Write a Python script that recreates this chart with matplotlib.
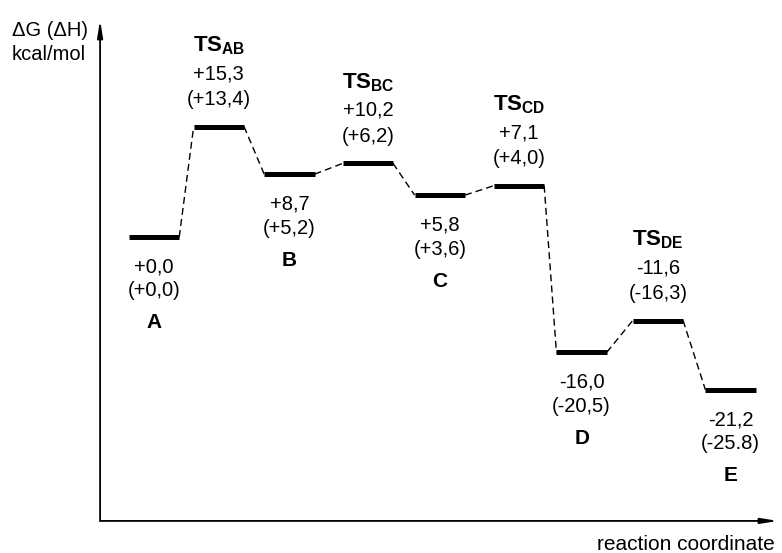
import matplotlib.pyplot as plt

plt.rcParams['font.family'] = ['Liberation Sans', 'DejaVu Sans']
plt.rcParams['mathtext.fontset'] = 'custom'
plt.rcParams['mathtext.rm'] = 'Liberation Sans'
plt.rcParams['mathtext.bf'] = 'Liberation Sans:bold'
plt.rcParams['mathtext.it'] = 'Liberation Sans:italic'

# stationary points along the reaction coordinate
names = ['A', 'TS_{AB}', 'B', 'TS_{BC}', 'C', 'TS_{CD}', 'D', 'TS_{DE}', 'E']
is_ts = [False, True, False, True, False, True, False, True, False]
rc = [0.0, 0.9, 1.88, 2.97, 3.97, 5.07, 5.94, 7.0, 8.01]
dG = [0.0, 15.3, 8.7, 10.2, 5.8, 7.1, -16.0, -11.6, -21.2]
dH_text = ['(+0,0)', '(+13,4)', '(+5,2)', '(+6,2)', '(+3,6)', '(+4,0)',
           '(-20,5)', '(-16,3)', '(-25.8)']

fig = plt.figure(figsize=(7.82, 5.53), dpi=100)
ax = fig.add_axes([0.128, 0.058, 0.867, 0.906])
ax.set_xlim(-0.75, 8.67)
ax.set_ylim(-39.4, 30.1)
for sp in ax.spines.values():
    sp.set_visible(False)
ax.set_xticks([])
ax.set_yticks([])

# axis arrows
arrow = dict(arrowstyle='-|>,head_length=1.0,head_width=0.16', color='black', lw=1.3,
             shrinkA=0, shrinkB=0)
ax.annotate('', xy=(0, 1), xytext=(0, 0), xycoords='axes fraction', arrowprops=arrow)
ax.annotate('', xy=(1, 0), xytext=(0, 0), xycoords='axes fraction', arrowprops=arrow)

half = 0.35
px = 0.72  # points per pixel

for i, g in enumerate(dG):
    x = rc[i]
    ax.plot([x - half, x + half], [g, g], color='black', lw=3.6, solid_capstyle='butt')
    if i + 1 < len(dG):
        ax.plot([x + half, rc[i + 1] - half], [g, dG[i + 1]], color='black', lw=1,
                dashes=(5, 3))
    gtxt = f'{g:+.1f}'.replace('.', ',')
    name = r'$\mathbf{' + names[i] + '}$'
    if is_ts[i]:
        offs = [(name, 81, 16), (gtxt, 53, 14.5), (dH_text[i], 27, 14.5)]
    else:
        offs = [(gtxt, -30, 14.5), (dH_text[i], -54, 14.5), (name, -86, 15)]
    for txt, dy, fs in offs:
        ax.annotate(txt, xy=(x, g), xytext=(0, dy * px), textcoords='offset points',
                    ha='center', va='center', fontsize=fs)

fig.text(12 / 782, 1 - 21 / 553, 'ΔG (ΔH)\nkcal/mol', ha='left', va='top',
         fontsize=14.5, linespacing=1.3)
fig.text(775 / 782, 1 - 545 / 553, 'reaction coordinate', ha='right', va='center',
         fontsize=15)

fig.savefig('out.png', dpi=100)
